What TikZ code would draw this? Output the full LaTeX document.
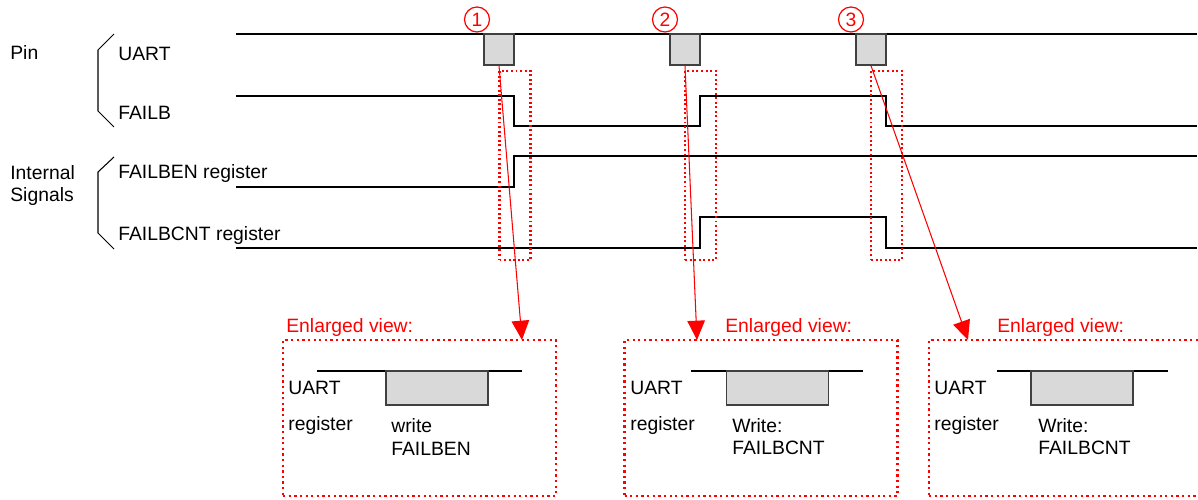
\documentclass[tikz,border=0pt]{standalone}
\usepackage{fontspec}
\setmainfont{Liberation Sans}
\usetikzlibrary{arrows.meta, positioning}

\definecolor{boxgray}{HTML}{D9D9D9}

\begin{document}
\begin{tikzpicture}[
    x=0.02cm, y=-0.02cm,
    font=\fontsize{11}{12.6}\selectfont,
    sig/.style={line width=1.4pt},
    brace/.style={line width=0.6pt},
    thinsig/.style={line width=0.7pt},
    lbl/.style={anchor=west, inner sep=0pt, align=left},
    redlbl/.style={lbl, text=red},
    numcirc/.style={circle, draw=red, text=red, line width=0.7pt,
                    minimum size=0.5cm, inner sep=0pt},
    wrbox/.style={rectangle, draw=black!75, line width=0.8pt, fill=boxgray,
                  minimum width=0.6cm, minimum height=0.62cm},
    bigwrbox/.style={wrbox, line width=0.7pt, minimum width=2.04cm,
                     minimum height=0.68cm},
    zoomwin/.style={rectangle, draw=red, line width=1.3pt,
                    dash pattern=on 1.1pt off 1.5pt,
                    minimum width=0.62cm, minimum height=3.78cm},
    zoombox/.style={rectangle, draw=red, line width=1.4pt,
                    dash pattern=on 1.3pt off 1.9pt,
                    minimum width=5.46cm, minimum height=3.12cm},
    zoomarr/.style={red, line width=0.6pt, -{Triangle[length=11pt, width=10pt]}}
  ]

  \useasboundingbox (0,0) rectangle (1198,500);

  % Signal names
  \node[lbl] (pin)      at (10,52)    {Pin};
  \node[lbl] (internal) at (10,185.5) {Internal\\Signals};
  \node[lbl] (uart)     at (118,54)   {UART};
  \node[lbl] (failb)    at (118,113)  {FAILB};
  \node[lbl] (failben)  at (118,174)  {FAILBEN register};
  \node[lbl] (failbcnt) at (118,236)  {FAILBCNT register};

  \draw[brace] (114,34)  -- (98,50)  -- (98,111) -- (114,127);
  \draw[brace] (114,157) -- (98,172) -- (98,233) -- (114,249);

  % Waveforms
  \draw[sig] (236,34) -- (1197,34);
  \draw[sig] (236,96) -- (514,96) -- (514,126) -- (700,126) -- (700,96)
             -- (886,96) -- (886,126) -- (1197,126);
  \draw[sig] (236,187) -- (514,187) -- (514,156) -- (1197,156);
  \draw[sig] (236,248) -- (700,248) -- (700,217) -- (886,217) -- (886,248)
             -- (1197,248);

  % UART writes
  \node[wrbox] (w1) at (499,49.5) {};
  \node[wrbox] (w2) at (685,49.5) {};
  \node[wrbox] (w3) at (871,49.5) {};

  \node[numcirc] (n1) at (477,19.5) {1};
  \node[numcirc] (n2) at (665,19.5) {2};
  \node[numcirc] (n3) at (851,19.5) {3};

  \node[zoomwin] (z1) at (515,165.5) {};
  \node[zoomwin] (z2) at (700.5,165.5) {};
  \node[zoomwin] (z3) at (886.5,165.5) {};

  % Enlarged views
  \node[zoombox] (e1) at (419.5,418) {};
  \node[zoombox] (e2) at (761,418)   {};
  \node[zoombox] (e3) at (1065.5,418) {};

  \node[redlbl] (t1) at (286,328) {Enlarged view:};
  \node[redlbl] (t2) at (725,328) {Enlarged view:};
  \node[redlbl] (t3) at (997,328) {Enlarged view:};

  \draw[thinsig] (317,371) -- (522,371);
  \node[bigwrbox] (b1) at (437,388) {};
  \node[lbl] (u1) at (288,388) {UART};
  \node[lbl] (r1) at (288,426) {register};
  \node[lbl] (c1) at (391,437) {write\\FAILBEN};

  \draw[thinsig] (691,371) -- (863,371);
  \node[bigwrbox] (b2) at (777.5,388) {};
  \node[lbl] (u2) at (630,388) {UART};
  \node[lbl] (r2) at (630,426) {register};
  \node[lbl] (c2) at (732,437) {Write:\\FAILBCNT};

  \draw[thinsig] (997,371) -- (1168,371);
  \node[bigwrbox] (b3) at (1082,388) {};
  \node[lbl] (u3) at (934,388) {UART};
  \node[lbl] (r3) at (934,426) {register};
  \node[lbl] (c3) at (1038,437) {Write:\\FAILBCNT};

  % Pointers to the enlarged views
  \coordinate (p1) at (522,340);
  \coordinate (p2) at (697,340);
  \coordinate (p3) at (968,340);
  \draw[zoomarr] (w1.south) -- (p1);
  \draw[zoomarr] (w2.south) -- (p2);
  \draw[zoomarr] (w3.south) -- (p3);

\end{tikzpicture}
\end{document}
